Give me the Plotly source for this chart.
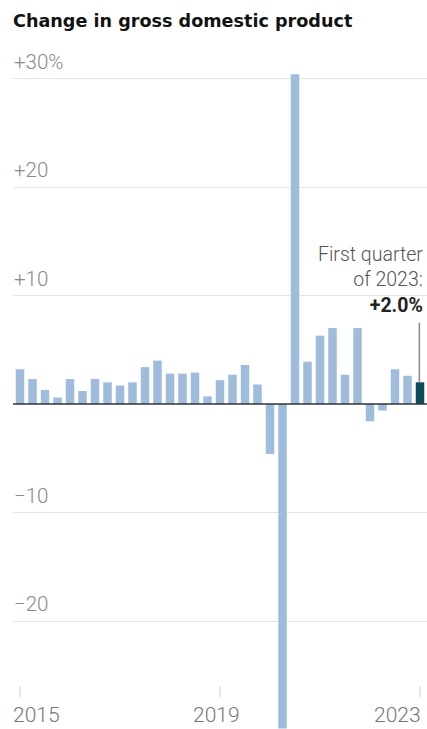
import plotly.graph_objects as go

# Quarterly change in real GDP (annualized %), 2015 Q1 – 2023 Q1
quarters = [f"{y} Q{q}" for y in range(2015, 2023) for q in range(1, 5)] + ["2023 Q1"]
values = [
    3.2, 2.3, 1.3, 0.6,
    2.3, 1.2, 2.3, 2.0,
    1.7, 2.0, 3.4, 4.0,
    2.8, 2.8, 2.9, 0.7,
    2.2, 2.7, 3.6, 1.8,
    -4.6, -29.9, 30.4, 3.9,
    6.3, 7.0, 2.7, 7.0,
    -1.6, -0.6, 3.2, 2.6,
    2.0,
]
grid_vals = [30, 20, 10, -10, -20]
grid_labels = ["+30%", "+20", "+10", "\u221210", "\u221220"]
year_ticks = ["2015 Q1", "2019 Q1", "2023 Q1"]
year_labels = ["2015", "2019", "2023"]

LIGHT = "#9fbcdc"
DARK = "#0d4c5f"
FONT = "Roboto"

xs = list(range(len(values)))
colors = [LIGHT] * (len(values) - 1) + [DARK]

fig = go.Figure()
fig.add_trace(go.Bar(x=xs, y=values, marker=dict(color=colors, line=dict(width=0)),
                     hoverinfo="skip"))

ymax = (404 - 60) / 10.85
ymin = (404 - 729) / 10.85

shapes = []
# baseline
shapes.append(dict(type="line", xref="paper", yref="y", x0=0, x1=1, y0=0, y1=0,
                   line=dict(color="#333333", width=1.5), layer="above"))
# year tick marks
for t in year_ticks:
    xi = quarters.index(t)
    shapes.append(dict(type="line", xref="x", yref="y", x0=xi, x1=xi, y0=-26.0, y1=-27.0,
                       line=dict(color="#cccccc", width=1), layer="above"))
# leader line for the annotation
last = len(values) - 1
shapes.append(dict(type="line", xref="x", yref="y", x0=last - 0.05, x1=last - 0.05,
                   y0=7.5, y1=values[-1], line=dict(color="#888888", width=1.5), layer="above"))

annotations = []
for v, lab in zip(grid_vals, grid_labels):
    annotations.append(dict(x=0, xref="paper", y=v, yref="y", text=lab, showarrow=False,
                            xanchor="left", yanchor="middle", yshift=17, xshift=-1,
                            font=dict(family=FONT, size=20.5, color="#8a8a8a", weight=300)))
anchors = [("left", -9), ("center", -4), ("right", 3)]
for t, lab, (anc, sh) in zip(year_ticks, year_labels, anchors):
    annotations.append(dict(x=quarters.index(t), xref="x", y=-28.7, yref="y", text=lab,
                            showarrow=False, xanchor=anc, yanchor="middle", xshift=sh,
                            font=dict(family=FONT, size=21, color="#777777", weight=300)))
annotations.append(dict(x=last, xref="x", y=7.4, yref="y",
                        text=("First quarter<br>of 2023:<br>"
                              "<span style='color:#222222'><b>+2.0%</b></span>"),
                        showarrow=False, xanchor="right", yanchor="bottom", align="right",
                        xshift=5, yshift=5,
                        font=dict(family=FONT, size=19.5, color="#555555", weight=300)))

fig.update_layout(
    width=427, height=729, autosize=False,
    margin=dict(l=13, r=0, t=60, b=0),
    paper_bgcolor="white", plot_bgcolor="white",
    showlegend=False, bargap=0.32,
    title=dict(text="<b>Change in gross domestic product</b>", x=13 / 427, xanchor="left",
               y=1 - 20.5 / 729, yanchor="middle",
               font=dict(family="DejaVu Sans", size=17.6, color="#121212")),
    xaxis=dict(range=[-0.561, 32.56], showgrid=False, zeroline=False, showticklabels=False,
               ticks="", showline=False, fixedrange=True),
    yaxis=dict(range=[ymin, ymax], tickvals=grid_vals, showticklabels=False, showgrid=True,
               gridcolor="#e3e3e3", gridwidth=1, zeroline=False, ticks="", showline=False,
               fixedrange=True),
    shapes=shapes,
    annotations=annotations,
)

fig.write_html("out.html", config={"displayModeBar": False},
               post_script="document.body.style.margin='0';document.body.style.overflow='hidden';")
